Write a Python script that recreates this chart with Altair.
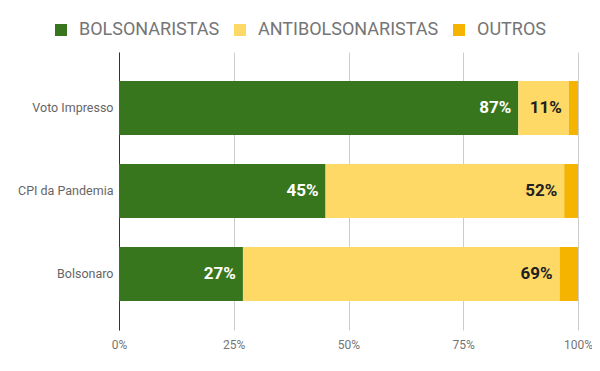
import altair as alt
import pandas as pd

categories = ["Voto Impresso", "CPI da Pandemia", "Bolsonaro"]
series = ["BOLSONARISTAS", "ANTIBOLSONARISTAS", "OUTROS"]
bolsonaristas = [87, 45, 27]
antibolsonaristas = [11, 52, 69]
outros = [2, 3, 4]
colors = ["#38761d", "#ffd966", "#f4b400"]
x_ticks = [0, 25, 50, 75, 100]

rows = []
for i, c in enumerate(categories):
    for j, (s, vals) in enumerate(zip(series, [bolsonaristas, antibolsonaristas, outros])):
        rows.append({"categoria": c, "grupo": s, "ordem": j, "valor": vals[i]})
df = pd.DataFrame(rows)

base = alt.Chart(df).transform_stack(
    stack="valor",
    groupby=["categoria"],
    as_=["inicio", "fim"],
    sort=[alt.SortField("ordem", order="ascending")],
)

y_enc = alt.Y(
    "categoria:N",
    sort=categories,
    title=None,
    scale=alt.Scale(paddingInner=0.35, paddingOuter=0.35),
    axis=alt.Axis(
        domain=True, domainColor="#333333", domainWidth=1, ticks=False,
        labelPadding=6, labelFontSize=12.5, labelColor="#666666", grid=False,
    ),
)

bars = base.mark_bar().encode(
    y=y_enc,
    x=alt.X(
        "inicio:Q",
        scale=alt.Scale(domain=[0, 100], nice=False),
        title=None,
        axis=alt.Axis(
            values=x_ticks, labelExpr="datum.value + '%'", domain=False, ticks=False,
            grid=True, gridColor="#cccccc", labelPadding=9, labelFontSize=12,
            labelColor="#757575", labelFlush=False,
        ),
    ),
    x2="fim:Q",
    color=alt.Color(
        "grupo:N",
        scale=alt.Scale(domain=series, range=colors),
        sort=series,
        legend=alt.Legend(
            title=None, orient="none", direction="horizontal",
            legendX=-67, legendY=-31, padding=0, symbolType="square", symbolSize=144,
            symbolStrokeWidth=0, labelFontSize=18, labelColor="#757575",
            labelOffset=9, columnPadding=11, labelLimit=400,
        ),
    ),
    order=alt.Order("ordem:Q"),
)

labels = base.transform_filter(
    alt.datum.grupo != "OUTROS"
).transform_calculate(
    rotulo="datum.valor + '%'"
).mark_text(align="right", baseline="middle", dx=-7, fontSize=17, fontWeight="bold").encode(
    y=alt.Y("categoria:N", sort=categories),
    x=alt.X("fim:Q"),
    text="rotulo:N",
    color=alt.condition(alt.datum.grupo == "BOLSONARISTAS", alt.value("#ffffff"), alt.value("#212121")),
)

chart = alt.layer(bars, labels).properties(
    width=459,
    height=278,
    autosize=alt.AutoSizeParams(type="none"),
    padding={"left": 111, "top": 44, "right": 14, "bottom": 33},
).configure(font="Roboto").configure_view(stroke=None)

chart.save("out.html", embed_options={"renderer": "svg", "actions": False})
